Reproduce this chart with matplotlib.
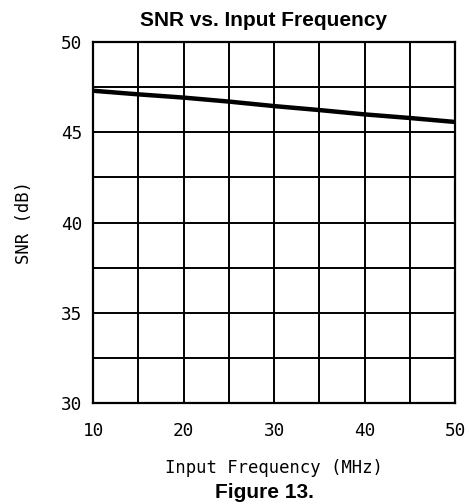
"""
SNR vs. Input Frequency (Figure 13)
"""

import matplotlib
matplotlib.use("Agg")
import matplotlib.pyplot as plt

freq_mhz = [10, 15, 20, 25, 30, 35, 40, 45, 50]
snr_db = [47.30, 47.10, 46.92, 46.70, 46.45, 46.23, 45.99, 45.79, 45.57]

x_ticks = [10, 20, 30, 40, 50]
y_ticks = [30, 35, 40, 45, 50]
x_grid = [10, 15, 20, 25, 30, 35, 40, 45, 50]
y_grid = [30, 32.5, 35, 37.5, 40, 42.5, 45, 47.5, 50]

plot_font = "DejaVu Sans Mono"


def snr_plot():
    fig = plt.figure(figsize=(4.69, 5.04), dpi=100)
    ax = fig.add_axes([93 / 469, 1 - 403 / 504, 362 / 469, 361 / 504])

    ax.set_xlim(10, 50)
    ax.set_ylim(30, 50)
    for x in x_grid:
        ax.axvline(x, color="black", lw=1.4, zorder=1)
    for y in y_grid:
        ax.axhline(y, color="black", lw=1.4, zorder=1)

    ax.plot(freq_mhz, snr_db, color="black", lw=3.2, zorder=3,
            solid_capstyle="butt")

    for s in ax.spines.values():
        s.set_linewidth(1.6)

    ax.set_xticks(x_ticks)
    ax.set_yticks(y_ticks)
    ax.tick_params(length=0)
    for lab in ax.get_xticklabels() + ax.get_yticklabels():
        lab.set_fontfamily(plot_font)
        lab.set_fontsize(12.8)
    ax.tick_params(axis="y", pad=8)
    ax.tick_params(axis="x", pad=14)

    ax.set_ylabel("SNR (dB)", fontfamily=plot_font, fontsize=12.4, labelpad=20)
    fig.text(274 / 469, 1 - 468 / 504, "Input Frequency (MHz)",
             fontfamily=plot_font, fontsize=12.4, ha="center", va="center")

    fig.text(264 / 469, 1 - 21 / 504, "SNR vs. Input Frequency",
             fontfamily="Liberation Sans", fontweight="bold", fontsize=15,
             ha="center", va="center")
    fig.text(264 / 469, 1 - 492 / 504, "Figure 13.",
             fontfamily="Liberation Sans", fontweight="bold", fontsize=15,
             ha="center", va="center")

    fig.savefig("out.png", dpi=100)


if __name__ == "__main__":
    snr_plot()
